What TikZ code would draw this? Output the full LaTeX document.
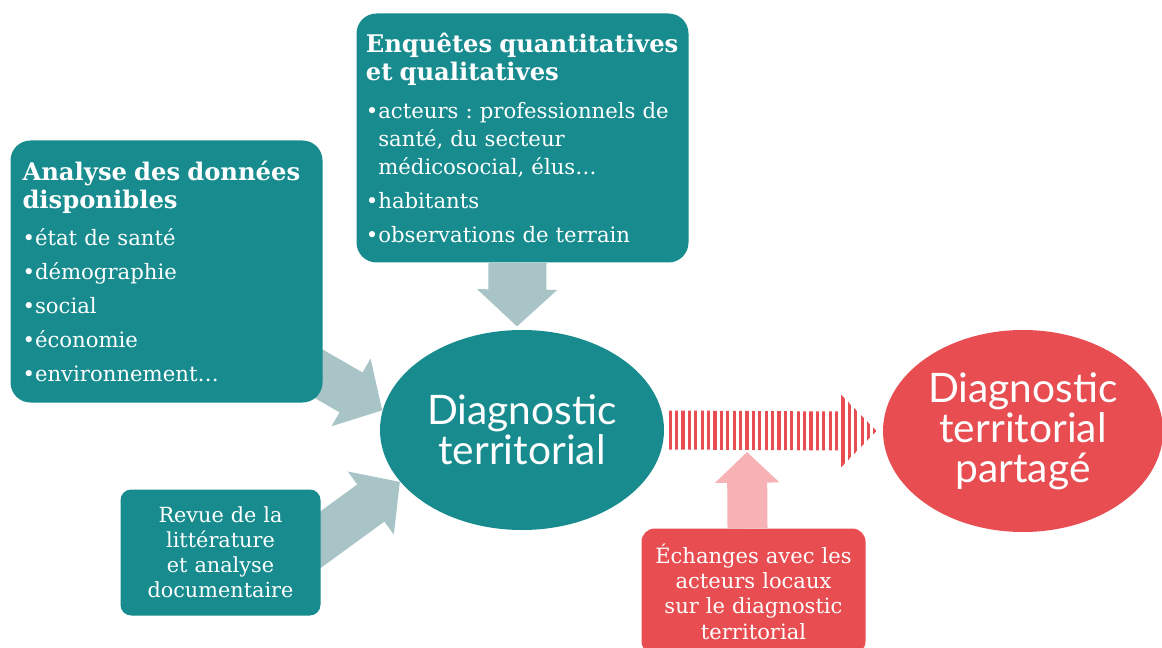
\documentclass[tikz,border=0pt]{standalone}
\usepackage{fontspec}
\setmainfont{DejaVu Serif}
\newfontfamily\ovalfont{Lato}
\usetikzlibrary{positioning,shapes.geometric,calc,arrows.meta}

\definecolor{tealfill}{RGB}{23,139,142}
\definecolor{redfill}{RGB}{231,77,81}
\definecolor{greyarrow}{RGB}{168,196,199}
\definecolor{pinkarrow}{RGB}{246,178,181}

\pgfdeclarelayer{background}
\pgfsetlayers{background,main}
\frenchspacing

\tikzset{every picture/.style={line width=0.75pt}}
\tikzset{
  tealbox/.style={fill=tealfill, text=white, rounded corners=15pt, inner sep=0pt, anchor=north west},
  redbox/.style={fill=redfill, text=white, rounded corners=10pt, inner sep=0pt, anchor=north west},
  oval/.style={ellipse, text=white, inner sep=0pt, minimum width=213pt, minimum height=150pt,
    align=center, font=\ovalfont\fontsize{30.5}{30}\selectfont},
  greyconn/.style={draw=greyarrow, line width=34.5pt, -{Triangle[length=27pt, width=57pt]}},
}
\newcommand{\boxtitle}[1]{\mbox{\bfseries\fontsize{18.2}{21.5}\selectfont #1}}
\newcommand{\hang}{\phantom{•}}

\begin{document}
\begin{tikzpicture}[x=0.75pt,y=0.75pt,yscale=-1,xscale=1]
\useasboundingbox (0,0) rectangle (1162,648);
\clip (0,0) rectangle (1162,648);

% Boxes
\node[tealbox, minimum width=234pt, minimum height=196.5pt, inner xsep=9pt, text width=216pt,
  align=left, font=\fontsize{15.9}{21}\selectfont] (analyse) at (10,140)
  {\boxtitle{Analyse des données}\\ \boxtitle{disponibles}\\[7pt]
   •état de santé\\[4.5pt]
   •démographie\\[4.5pt]
   •social\\[4.5pt]
   •économie\\[4.5pt]
   •environnement…};

\node[tealbox, minimum width=249pt, minimum height=186.75pt, inner xsep=7pt, text width=235pt,
  align=left, font=\fontsize{15.9}{21}\selectfont] (enquetes) at (356,13)
  {\boxtitle{Enquêtes quantitatives}\\ \boxtitle{et qualitatives}\\[7pt]
   •acteurs : professionnels de\\
   \hang santé, du secteur\\
   \hang médicosocial, élus…\\[4.5pt]
   •habitants\\[4.5pt]
   •observations de terrain};

\node[tealbox, rounded corners=8pt, minimum width=150pt, minimum height=94.5pt, text width=146pt,
  align=center, font=\fontsize{15.6}{18.75}\selectfont] (revue) at (120,489)
  {Revue de la\\ littérature\\ et analyse\\ documentaire};

\node[redbox, minimum width=168pt, minimum height=94.5pt, text width=164pt,
  align=center, font=\fontsize{15.8}{19}\selectfont] (echanges) at (641,528)
  {Échanges avec les\\ acteurs locaux\\ sur le diagnostic\\ territorial};

% Ovals
\node[oval, fill=tealfill] (diag) at (522,430) {Diagnostic\\territorial};
\node[oval, fill=redfill, minimum width=210pt, minimum height=151.5pt] (partage) at (1023,431)
  {Diagnostic\\territorial\\partagé};

% Connectors
\coordinate (a1) at (300,363);
\coordinate (a2) at (305,551);
\coordinate (pinktip) at (747,452);
\coordinate (s0) at ($(diag.east)+(4,0)$);
\coordinate (s1) at ($(partage.west)+(-6,0)$);

\begin{pgfonlayer}{background}
\draw[greyconn] (a1) -- (diag.172.7);
\draw[greyconn] (a2) -- (diag.203);
\draw[greyconn, line width=43.5pt, -{Triangle[length=27.75pt, width=58.5pt]}]
  ($(enquetes.south)+(-5,0)$) -- ($(diag.north)+(-5,-3)$);
\draw[draw=pinkarrow, line width=30pt, -{Triangle[length=23pt, width=47pt]}]
  ($(echanges.north)+(-6,0)$) -- (pinktip);
\end{pgfonlayer}

% Striped arrow
\begin{scope}
  \clip (s0) ++(0,-19.5) -- ($(s1)+(-37,-19.5)$) -- ($(s1)+(-37,-38)$) -- (s1)
    -- ($(s1)+(-37,38)$) -- ($(s1)+(-37,19.5)$) -- ($(s0)+(0,19.5)$) -- cycle;
  \foreach \k in {0,...,33}
    \fill[redfill] ($(s0)+(\k*6.4,-40)$) rectangle +(3.2,80);
\end{scope}

\end{tikzpicture}
\end{document}
